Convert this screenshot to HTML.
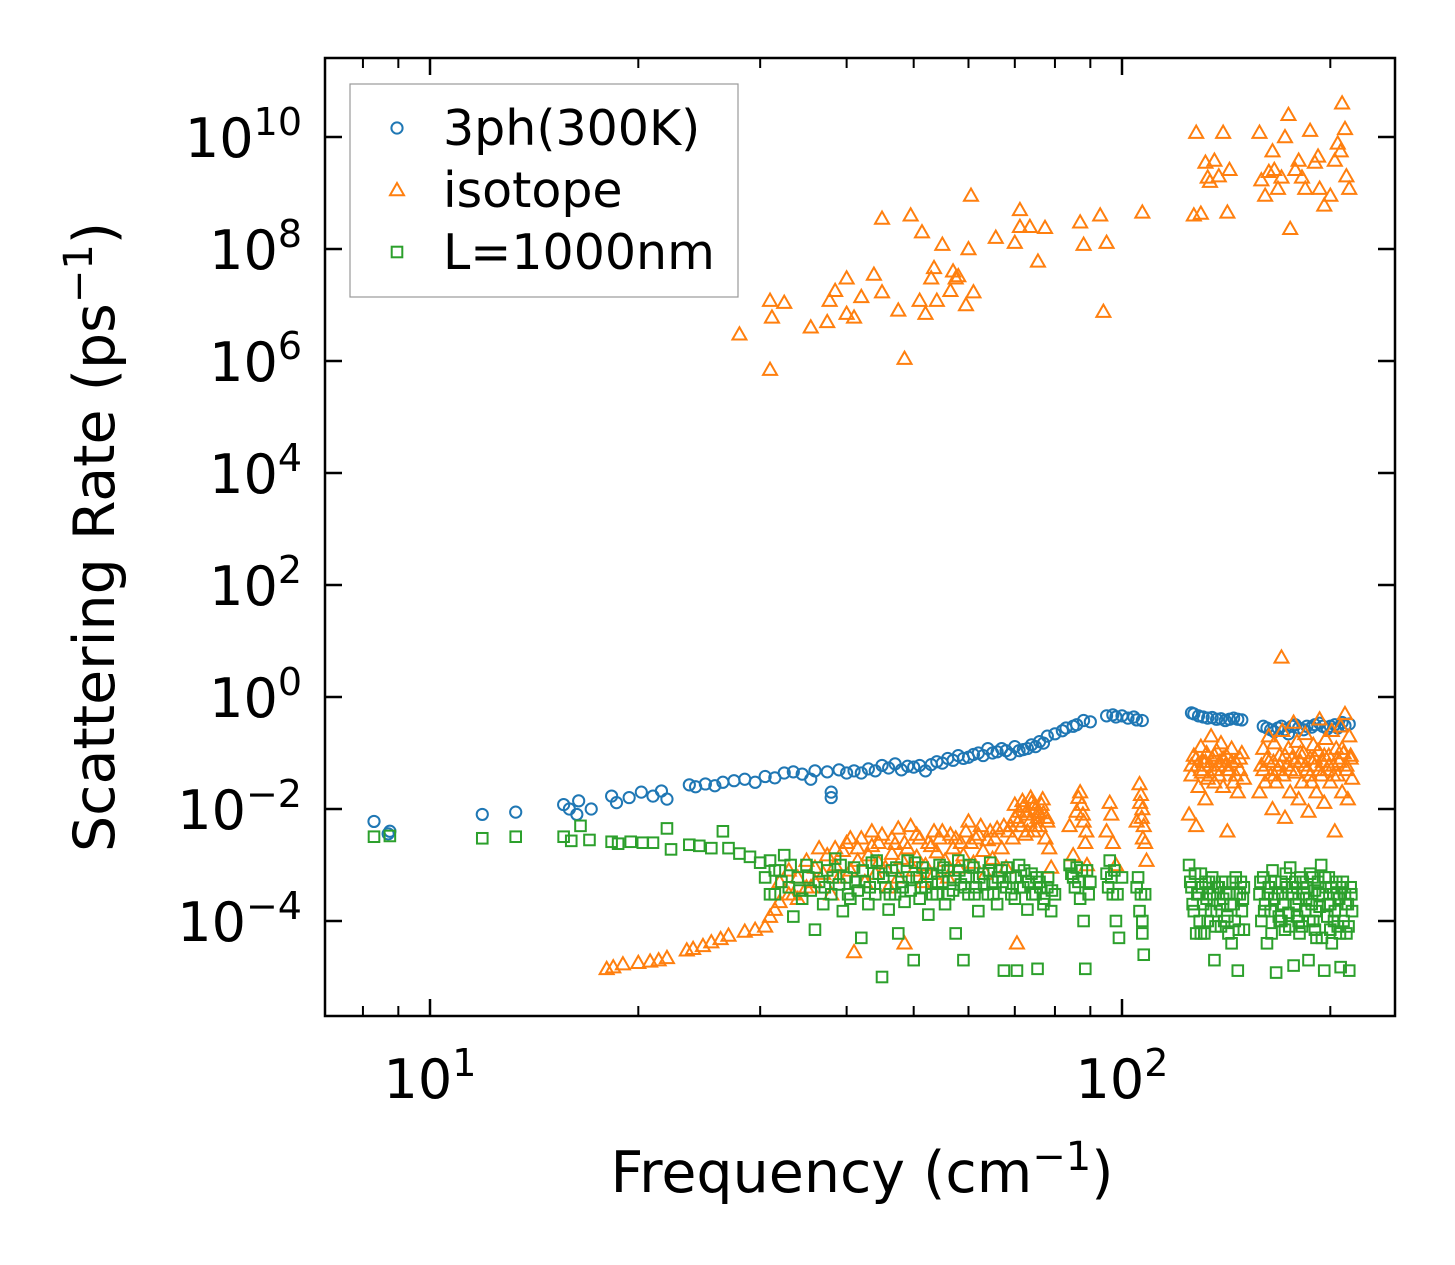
<!DOCTYPE html>
<html><head><meta charset="utf-8"><style>
html,body{margin:0;padding:0;background:#fff;}
svg{display:block;font-family:"DejaVu Sans","Liberation Sans",sans-serif;}
</style></head><body>
<svg id="chart" width="1455" height="1265" viewBox="0 0 1455 1265" xmlns="http://www.w3.org/2000/svg">
<rect width="1455" height="1265" fill="#fff"/>
<g id="marks"></g>
<g id="axes"></g>
<g id="legend"></g>
</svg>
<script>
const xTicks = [10, 100];
const xMinor = [8,9,20,30,40,50,60,70,80,90,200];
const yTicks = [-4,-2,0,2,4,6,8,10];
const blue = [[8.3,6e-3],[8.75,4e-3],[8.7,3.6e-3],[11.9,8e-3],[13.3,8.8e-3],[15.6,1.2e-2],[15.9,1.0e-2],[16.4,1.4e-2],[16.3,8e-3],[17.1,1.0e-2],[18.3,1.7e-2],[18.6,1.3e-2],[19.4,1.6e-2],[20.2,2e-2],[21,1.7e-2],[21.6,2.1e-2],[22,1.5e-2],[23.7,2.7e-2],[24.2,2.5e-2],[25,2.8e-2],[25.8,2.6e-2],[26.5,3e-2],[27.5,3.2e-2],[28.5,3.4e-2],[29.5,3e-2],[30.5,3.8e-2],[31.5,3.6e-2],[32.5,4.4e-2],[33.5,4.6e-2],[34.5,4.2e-2],[35.5,3.4e-2],[36,4.8e-2],[37.5,4.6e-2],[38,2e-2],[38,1.6e-2],[39,5e-2],[40,4.4e-2],[41,4.8e-2],[42,4.4e-2],[43,5.2e-2],[44,4.8e-2],[45,6e-2],[46,5.4e-2],[47,6.4e-2],[48,5e-2],[49,5.8e-2],[50,5.6e-2],[51,6e-2],[52,4.8e-2],[53,6.2e-2],[54,7e-2],[55,6.6e-2],[56,8e-2],[57,7.4e-2],[58,9e-2],[59,8e-2],[60,8.4e-2],[61,9.4e-2],[62,1.0e-1],[63,9e-2],[64,1.2e-1],[65,1e-1],[66,1.05e-1],[67,1.2e-1],[68,1.1e-1],[69,9.5e-2],[70,1.3e-1],[71,1.1e-1],[72,1.15e-1],[73,1.2e-1],[74,1.4e-1],[75,1.3e-1],[76,1.6e-1],[77,1.5e-1],[78,2e-1],[80,2.2e-1],[82,2.5e-1],[83,2.8e-1],[85,3e-1],[86,3.2e-1],[88,3.8e-1],[90,3.6e-1],[95,4.6e-1],[97,4.8e-1],[98,4.4e-1],[100,4.6e-1],[102,4.2e-1],[104,4.4e-1],[105,3.9e-1],[107,3.8e-1],[126,5.2e-1],[127,5e-1],[129,4.6e-1],[131,4.4e-1],[133,4.2e-1],[135,4.3e-1],[137,4e-1],[139,4.1e-1],[141,3.8e-1],[143,4e-1],[145,4.2e-1],[147,4e-1],[149,3.9e-1],[160,3e-1],[162,2.8e-1],[164,2.6e-1],[166,2.4e-1],[168,2.8e-1],[170,3e-1],[172,2.6e-1],[174,2.2e-1],[176,3e-1],[178,3.2e-1],[180,2.8e-1],[183,2.6e-1],[185,3e-1],[188,2.9e-1],[190,3.2e-1],[193,3.4e-1],[195,3e-1],[198,2.7e-1],[200,3e-1],[203,3.2e-1],[205,2.8e-1],[208,3.5e-1],[210,3.1e-1],[213,3.3e-1]];
const isoHigh = [[28,3e6],[31,1.2e7],[31.2,6e6],[31,7e5],[32.5,1.1e7],[35.5,4e6],[37.5,5e6],[37.8,1.2e7],[38.5,1.8e7],[40,3e7],[40,7e6],[41,6e6],[42,1.4e7],[43.8,3.5e7],[45,1.7e7],[45,3.5e8],[47.5,8e6],[48.5,1.1e6],[49.5,4e8],[51,1.2e7],[51.4,2e8],[52,7e6],[53,3e7],[53.5,4.6e7],[54,1.2e7],[55,1.2e8],[56.5,1.8e7],[57,4e7],[57.5,3e7],[58,3.3e7],[59.5,1e7],[60,1e8],[60.5,9e8],[61,1.7e7],[65.7,1.6e8],[70,1.3e8],[71.2,5e8],[71.2,2.5e8],[73.6,2.5e8],[75.6,6e7],[77.4,2.4e8],[87,3e8],[88,1.2e8],[93,4e8],[94,7.6e6],[95,1.3e8],[107,4.5e8],[127,4e8],[128,1.2e10],[130,4.3e8],[132,3.5e9],[133,1.9e9],[134,1.6e9],[136,3.8e9],[138,2e9],[140,1.2e10],[142,4.5e8],[143,2.6e9],[158,1.2e10],[159,1.7e9],[161,9e8],[163,2.4e9],[165,5.6e9],[166,2.6e9],[168,1.2e9],[170,1.9e9],[172,1e10],[174,2.5e10],[175,2.3e8],[178,2.6e9],[180,3.8e9],[182,1.9e9],[184,1.2e9],[187,1.3e10],[190,3.5e9],[192,4.5e9],[193,1.2e9],[196,6e8],[200,9e8],[203,3.8e9],[205,7.7e9],[207,5.6e9],[208,4e10],[210,1.4e10],[211,2e9],[213,1.2e9]];
const isoLow = [[18,1.4e-5],[18.4,1.5e-5],[19,1.7e-5],[20,1.8e-5],[20.8,1.9e-5],[21.4,2e-5],[22,2.2e-5],[23.5,3e-5],[24,3.2e-5],[24.8,3.6e-5],[25.5,4.2e-5],[26.3,4.8e-5],[27,5.5e-5],[28.5,6.5e-5],[29.5,7e-5],[30.5,8e-5],[31,1.2e-4],[31.5,1.6e-4],[32,2.2e-4],[33,3e-4],[34,2.5e-4],[35,4e-4],[36,5e-4],
[32,5e-4],[33,8e-4],[33.5,3e-4],[34,6e-4],[35,1.2e-3],[35.5,4e-4],[36,9e-4],[36.5,2e-3],[37,7e-4],[37.5,1.5e-3],[38,3e-4],[38.5,1e-3],[39,6e-4],[39.5,1.8e-3],[40,2.5e-3],[40.5,8e-4],[41,2.8e-5],[41.5,1.2e-3],[42,3e-3],[42.5,5e-4],[43,1.5e-3],[43.5,2.2e-3],[44,7e-4],[44.5,1.1e-3],[45,3.5e-3],[45.5,9e-4],[46,4e-4],[46.5,1.6e-3],[47,2.4e-3],[47.5,6e-4],[48,1.3e-3],[48.5,4e-5],[49,2e-3],[49.5,5e-3],[50,8e-4],[50.5,1.4e-3],[51,3e-3],[51.5,5e-4],[52,1e-3],[53,2.2e-3],[53.5,7e-4],[54,1.7e-3],[55,4e-3],[55.5,1.2e-3],[56,6e-4],[57,2e-3],[57.5,3e-3],[58,9e-4],[59,1.5e-3],[60,6e-3],[60.5,2.5e-3],[61,1.1e-3],[62,3.5e-3],[63,1.8e-3],[63.5,7e-4],[64,2.8e-3],[65,1.3e-3],[66,4.5e-3],[67,2e-3],[68,9e-4],[69,5e-3],[69.5,3e-3],[70,7e-3],[70.5,4e-5],[71,9e-3],[71.5,5e-3],[72,1.1e-2],[72.5,3.5e-3],[73,8e-3],[73.5,6e-3],[74,1.3e-2],[74.5,4e-3],[75,1e-2],[75.5,7e-3],[76,5e-3],[76.5,1.2e-2],[77,8.5e-3],[77.5,3e-3],[78,6e-3],[78.5,2e-3],[79,9e-4],
[84,5e-3],[85,1.5e-3],[86,9e-3],[87,2e-2],[87.5,1.2e-2],[88,6e-3],[88.5,2.5e-3],[89,1e-3],[95,4e-3],[96,1.3e-2],[96.5,8e-3],[97,2.5e-3],[98,1e-3],[105,6e-3],[106,2.8e-2],[106.5,1.8e-2],[107,1e-2],[107.5,5e-3],[108,2.5e-3],[108.5,1.2e-3],
[125,8e-3],[126,4e-2],[127,9e-2],[128,5e-3],[128.5,6e-2],[129,2.5e-2],[130,1.3e-1],[130.5,4.5e-2],[131,7e-2],[132,1.5e-2],[132.5,1e-1],[133,3.5e-2],[134,6e-2],[134.5,2e-1],[135,8e-2],[136,3e-2],[136.5,5e-2],[137,1.1e-1],[138,4e-2],[138.5,7e-2],[139,1.5e-1],[140,2.5e-2],[141,6e-2],[141.5,9e-2],[142,4e-3],[143,5e-2],[144,1.2e-1],[145,3e-2],[146,7e-2],[147,2e-2],[148,5e-2],[149,1e-1],[150,3.5e-2],
[158,2e-2],[159,6e-2],[160,1.2e-1],[161,3e-2],[162,8e-2],[163,2e-1],[164,4e-2],[165,1e-2],[165.5,7e-2],[166,1.5e-1],[167,3e-2],[168,5e-2],[169,9e-2],[170,5.1],[170.5,2.5e-1],[171,4e-2],[172,7e-3],[173,6e-2],[174,1.2e-1],[175,2e-2],[176,8e-2],[177,3.5e-1],[178,4.5e-2],[179,1.6e-1],[180,1.5e-2],[181,7e-2],[182,3e-2],[183,1e-1],[184,2.2e-1],[185,5e-2],[186,9e-3],[187,8e-2],[188,3e-2],[189,1.4e-1],[190,6e-2],[191,2e-2],[192,1.1e-1],[193,4e-1],[194,4e-2],[195,7e-2],[196,1.3e-2],[197,1.8e-1],[198,5e-2],[199,9e-2],[200,3e-2],[201,2.5e-1],[202,6e-2],[203,4e-3],[204,1.2e-1],[205,4e-2],[206,7e-2],[207,3e-1],[208,2e-2],[209,1e-1],[210,5e-1],[211,5e-2],[212,1.5e-2],[213,2e-1],[214,8e-2],[215,3.5e-2]];
const isoExtra = [[38.5,2e-3],[40.5,3e-3],[41.5,2e-3],[43.5,4e-3],[44.5,2.5e-3],[46.5,3e-3],[47.5,4.5e-3],[48.5,2.5e-3],[50.5,3.5e-3],[52.5,2.5e-3],[53.5,4e-3],[54.5,3e-3],[56.5,3.5e-3],[58.5,2.5e-3],[59.5,4e-3],[61.5,3e-3],[62.5,5e-3],[64.5,4e-3],[65.5,3e-3],[67.5,5e-3],[68.5,4e-3],[70,1.2e-2],[70.8,6e-3],[71.8,1.4e-2],[72.8,9e-3],[73.8,1.6e-2],[74.8,1.2e-2],[75.8,9e-3],[76.8,1.5e-2],[77.8,7e-3],[73,4e-3],[75,5e-3],[86.5,1.6e-2],[87.8,8e-3],[88.8,4e-3],[106.2,1.3e-2],[106.8,7e-3],[107.2,3e-3],
[126,6e-2],[128,8e-2],[130,5e-2],[132,7e-2],[134,4e-2],[136,9e-2],[138,6e-2],[140,8e-2],[142,5e-2],[144,7e-2],[146,4e-2],[148,8e-2],[160,5e-2],[163,7e-2],[166,4e-2],[169,6e-2],[172,9e-2],[175,5e-2],[178,7e-2],[181,1e-1],[184,6e-2],[187,4e-2],[190,8e-2],[193,5e-2],[196,9e-2],[199,6e-2],[202,4e-2],[205,8e-2],[208,1.2e-1],[211,6e-2],[214,9e-2]];
const green = [[8.3,3.2e-3],[8.75,3.3e-3],[11.9,3e-3],[13.3,3.2e-3],[15.6,3.2e-3],[16,2.7e-3],[16.5,5e-3],[17,2.8e-3],[18.3,2.6e-3],[18.7,2.4e-3],[19.5,2.6e-3],[20.3,2.5e-3],[21,2.5e-3],[22,4.5e-3],[22.3,1.9e-3],[23.7,2.3e-3],[24.5,2.2e-3],[25.5,2e-3],[26.5,4e-3],[27,2e-3],[28,1.6e-3],[29,1.4e-3],[30,1.1e-3],[30.5,6e-4],[31,1.2e-3],[31.5,3e-4],
[31,3e-4],[32,8e-4],[32.5,1.5e-3],[33,4e-4],[33.5,1.2e-4],[34,6e-4],[34.5,2.5e-4],[35,1e-3],[35.5,3.5e-4],[36,7e-5],[36.5,5e-4],[37,2e-4],[37.5,8e-4],[38,3e-4],[38.5,1.3e-3],[39,4.5e-4],[39.5,1.5e-4],[40,6e-4],[40.5,2.5e-4],[41,9e-4],[41.5,3.5e-4],[42,5e-5],[42.5,5e-4],[43,2e-4],[43.5,1.1e-3],[44,3e-4],[44.5,7e-4],[45,1e-5],[45.5,4e-4],[46,1.6e-4],[46.5,8e-4],[47,3e-4],[47.5,6e-5],[48,5e-4],[48.5,2.2e-4],[49,1.2e-3],[49.5,3.5e-4],[50,2e-5],[50.5,6e-4],[51,2.5e-4],[51.5,9e-4],[52,4e-4],[52.5,1.3e-4],[53,7e-4],[54,3e-4],[54.5,1e-3],[55,5e-4],[55.5,2e-4],[56,8e-4],[57,3.5e-4],[57.5,6e-5],[58,1.2e-3],[58.5,4.5e-4],[59,2e-5],[59.5,6e-4],[60,3e-4],[61,9e-4],[61.5,4e-4],[62,1.5e-4],[63,7e-4],[64,3e-4],[64.5,1.1e-3],[65,5e-4],[66,2e-4],[67,8e-4],[67.5,1.3e-5],[68,4e-4],[69,6e-4],[70,2.5e-4],[70.5,1.3e-5],[71,1e-3],[72,4e-4],[73,1.6e-4],[74,7e-4],[75,3e-4],[75.5,1.4e-5],[76,5e-4],[77,2e-4],[78,4e-4],[79,1.5e-4],[80,3e-4],
[84,1e-3],[85,6e-4],[86,9e-4],[87,2.5e-4],[88,1e-4],[88.5,1.4e-5],[89,8e-4],[90,5e-4],[95,7e-4],[96,1.2e-3],[97,3e-4],[98,1e-4],[99,5e-5],[100,6e-4],[105,4e-4],[106,1.5e-4],[107,6e-5],[107.5,2.5e-5],[108,3e-4],
[125,1e-3],[126,4e-4],[127,1.5e-4],[128,6e-5],[129,3e-4],[130,7e-4],[131,2e-4],[132,5e-4],[133,1e-4],[134,3e-4],[135,6e-4],[136,2e-5],[137,1.5e-4],[138,4e-4],[139,8e-5],[140,2.5e-4],[141,5e-4],[142,1.2e-4],[143,3e-4],[144,4e-5],[145,2e-4],[146,6e-4],[147,1.3e-5],[148,3e-4],[149,1.5e-4],[150,4e-4],
[158,3e-4],[159,1e-4],[160,6e-4],[161,2e-4],[162,4e-5],[163,4e-4],[164,1.5e-4],[165,8e-4],[166,2.5e-4],[167,1.2e-5],[168,3e-4],[169,1e-4],[170,5e-4],[171,2e-4],[172,7e-5],[173,4e-4],[174,1.4e-4],[175,9e-4],[176,3e-4],[177,1.6e-5],[178,5e-4],[179,1.2e-4],[180,2.5e-4],[181,6e-4],[182,8e-5],[183,3e-4],[184,1.5e-4],[185,4e-4],[186,2e-5],[187,7e-4],[188,2e-4],[189,1e-4],[190,3.5e-4],[191,5e-5],[192,5e-4],[193,1.8e-4],[194,1e-3],[195,3e-4],[196,1.3e-5],[197,4e-4],[198,1.2e-4],[199,6e-4],[200,2e-4],[201,4e-5],[202,3e-4],[203,1.5e-4],[204,5e-4],[205,8e-5],[206,2.5e-4],[207,1.5e-5],[208,4e-4],[209,1e-4],[210,3e-4],[211,6e-5],[212,2e-4],[213,1.3e-5],[214,4e-4],[215,1.5e-4]];
const greenExtra = [[31.5,8e-4],[32.2,5e-4],[33.2,1e-3],[34.2,3.5e-4],[35.2,6e-4],[36.2,9e-4],[37.2,4e-4],[38.2,6e-4],[39.2,1e-3],[40.2,3e-4],[41.2,5e-4],[42.2,8e-4],[43.2,4e-4],[44.2,1.2e-3],[45.2,6e-4],[46.2,3e-4],[47.2,9e-4],[48.2,4e-4],[49.2,6e-4],[50.2,1.1e-3],[51.2,4e-4],[52.2,7e-4],[53.2,3e-4],[54.2,5e-4],[55.2,9e-4],[56.2,3e-4],[57.2,6e-4],[58.2,8e-4],[59.2,4e-4],[60.2,1e-3],[61.2,3e-4],[62.2,6e-4],[63.2,4.5e-4],[64.2,8e-4],[65.2,3e-4],[66.2,6e-4],[67.2,5e-4],[68.2,9e-4],[69.2,3e-4],[70.2,6e-4],[71.2,4e-4],[72.2,8e-4],[73.2,5e-4],[74.2,3e-4],[75.2,6e-4],[76.2,4e-4],[77.2,2.5e-4],[78.2,6e-4],[79.2,3.5e-4],
[84.5,7e-4],[85.5,4e-4],[86.5,5e-4],[87.5,8e-4],[89.5,3e-4],[95.5,4e-4],[96.5,6e-4],[97.5,8e-4],[98.5,3e-4],[105.5,6e-4],[106.5,3e-4],[107,1e-4],
[125.5,5e-4],[126.5,2e-4],[127.5,7e-4],[128.5,3e-4],[129.5,1e-4],[130.5,4e-4],[131.5,6e-5],[132.5,2.5e-4],[133.5,5e-4],[134.5,1.5e-4],[135.5,3e-4],[136.5,8e-5],[137.5,4e-4],[138.5,2e-4],[139.5,5e-4],[140.5,1e-4],[141.5,3e-4],[142.5,6e-5],[143.5,2e-4],[144.5,5e-4],[145.5,1e-4],[146.5,3e-4],[147.5,7e-5],[148.5,5e-4],[149.5,2.5e-4],
[158.5,5e-4],[160.5,1.5e-4],[162.5,3e-4],[164.5,6e-5],[166.5,5e-4],[168.5,1.2e-4],[170.5,3e-4],[172.5,7e-4],[174.5,8e-5],[176.5,4e-4],[178.5,2e-4],[180.5,6e-5],[182.5,5e-4],[184.5,2.5e-4],[186.5,1e-4],[188.5,6e-4],[190.5,1.5e-4],[192.5,3e-4],[194.5,5e-5],[196.5,6e-4],[198.5,2e-4],[200.5,4e-4],[202.5,1e-4],[204.5,3e-4],[206.5,6e-5],[208.5,5e-4],[210.5,2e-4],[212.5,8e-5],[214.5,3e-4],[170,1e-4],[180,1e-4],[190,7e-5],[200,7e-5],[150,7e-5],[130,6e-5]];

const NS='http://www.w3.org/2000/svg';
const L=325,R=1395,T=58,B=1016;
const X = f => 430 + 692*(Math.log10(f)-1);
const Y = v => 697 - 56*Math.log10(v);
function mk(tag, attrs, parent){const e=document.createElementNS(NS,tag);for(const k in attrs)e.setAttribute(k,attrs[k]);parent.appendChild(e);return e;}
const marks=document.getElementById('marks');
const axes=document.getElementById('axes');
const leg=document.getElementById('legend');
const C1='#1f77b4',C2='#ff7f0e',C3='#2ca02c';
function circle(x,y,p){return mk('circle',{cx:x,cy:y,r:5.6,fill:'none',stroke:C1,'stroke-width':2},p);}
function tri(x,y,p){const s=7;return mk('polygon',{points:`${x},${y-s} ${x-s},${y+s*0.75} ${x+s},${y+s*0.75}`,fill:'none',stroke:C2,'stroke-width':2},p);}
function sq(x,y,p){return mk('rect',{x:x-5.3,y:y-5.3,width:10.6,height:10.6,fill:'none',stroke:C3,'stroke-width':2},p);}
blue.forEach(d=>{const e=circle(X(d[0]),Y(d[1]),marks);

});
isoHigh.concat(isoLow,isoExtra).forEach(d=>{const e=tri(X(d[0]),Y(d[1]),marks);

});
green.concat(greenExtra).forEach(d=>{const e=sq(X(d[0]),Y(d[1]),marks);

});

const fr=mk('rect',{x:L,y:T,width:R-L,height:B-T,fill:'none',stroke:'#000','stroke-width':2.5},axes);


xTicks.forEach(f=>{const x=X(f);
mk('line',{x1:x,x2:x,y1:B,y2:B-17,stroke:'#000','stroke-width':2.5},axes);
mk('line',{x1:x,x2:x,y1:T,y2:T+17,stroke:'#000','stroke-width':2.5},axes);
const t=mk('text',{x:x,y:1098,'font-size':54,'text-anchor':'middle'},axes);


t.innerHTML='10<tspan dy="-22" font-size="38">'+Math.round(Math.log10(f))+'</tspan>';});
xMinor.forEach(f=>{const x=X(f);
mk('line',{x1:x,x2:x,y1:B,y2:B-10,stroke:'#000','stroke-width':2},axes);
mk('line',{x1:x,x2:x,y1:T,y2:T+10,stroke:'#000','stroke-width':2},axes);});
yTicks.forEach(p=>{const y=Y(Math.pow(10,p));
mk('line',{x1:L,x2:L+17,y1:y,y2:y,stroke:'#000','stroke-width':2.5},axes);
mk('line',{x1:R,x2:R-17,y1:y,y2:y,stroke:'#000','stroke-width':2.5},axes);
const t=mk('text',{x:302,y:y+20,'font-size':54,'text-anchor':'end'},axes);


t.innerHTML='10<tspan dy="-22" font-size="38">'+(p<0?'\u2212'+(-p):p)+'</tspan>';});
const xt=mk('text',{x:862,y:1192,'font-size':57,'text-anchor':'middle'},axes);


xt.innerHTML='Frequency (cm<tspan dy="-22" font-size="40">\u22121</tspan><tspan dy="22">)</tspan>';
const yt=mk('text',{x:0,y:0,'font-size':57,'text-anchor':'middle',transform:'translate(114,537) rotate(-90)'},axes);


yt.innerHTML='Scattering Rate (ps<tspan dy="-22" font-size="40">\u22121</tspan><tspan dy="22">)</tspan>';

const lb=mk('rect',{x:350,y:84,width:388,height:213,fill:'#fff',stroke:'#999','stroke-width':1.2},leg);


const entries=[['3ph(300K)',circle],['isotope',tri],['L=1000nm',sq]];
entries.forEach((e,i)=>{const y=128+i*62;
const m=e[1](397,y,leg);


const t=mk('text',{x:443,y:y+17,'font-size':49},leg);


t.textContent=e[0];});
</script>
</body></html>
